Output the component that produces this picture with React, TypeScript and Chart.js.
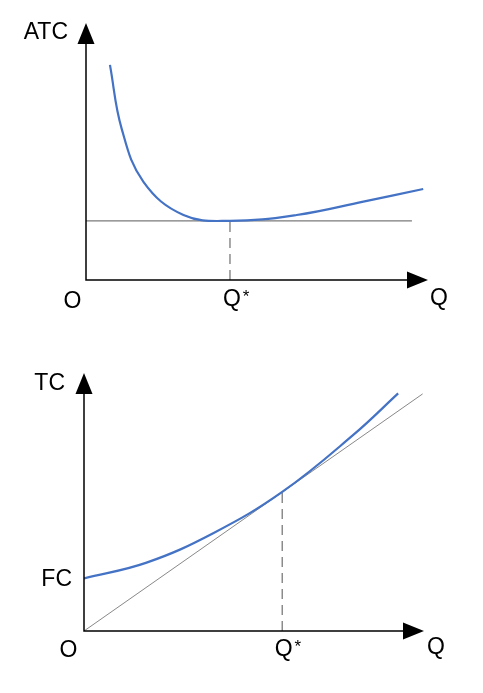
import React, { useEffect, useRef } from "react";
import { Chart, registerables } from "chart.js";

Chart.register(...registerables);

// ---------- Top chart: average total cost (ATC) ----------
const atcQ = [0.7, 1.04, 1.68, 2.85, 4.21, 6.16, 8.11, 9.86];
const atcCost = [8.37, 5.9, 3.82, 2.53, 2.3, 2.53, 3.05, 3.54];
const atcMinQ = 4.21;
const atcMinCost = 2.3;
const atcFloorEndQ = 9.53;

// ---------- Bottom chart: total cost (TC) ----------
const tcQ = [0, 1.84, 3.8, 5.83, 7.92, 9.24];
const tcCost = [2.04, 2.65, 3.79, 5.39, 7.6, 9.21];
const tcRayEndQ = 9.96;
const tcRayEndCost = 9.19;
const tcTangentQ = 5.83;
const tcTangentCost = 5.39;
const fixedCost = 2.04;

const axisMax = 10;
const topYLabel = "ATC";
const bottomYLabel = "TC";
const fcLabel = "FC";
const originLabel = "O";
const qLabel = "Q";
const qStarLabel = "Q";
const starLabel = "*";

const FONT = '"Liberation Sans", Arial, sans-serif';
const BLUE = "#4472C4";
const GREY = "#7a7a7a";

// cx/cy = centre of the capital letters
type LabelSpec = { text: string; cx: number; cy: number; align: CanvasTextAlign; size: number; star?: boolean };

function axesPlugin(getLabels: (x0: number, y0: number, xTip: number, yTip: number, chart: any) => LabelSpec[]) {
  return {
    id: "axes",
    afterDatasetsDraw(chart: any) {
      const ctx = chart.ctx as CanvasRenderingContext2D;
      const xs = chart.scales.x;
      const ys = chart.scales.y;
      const x0 = xs.getPixelForValue(0);
      const y0 = ys.getPixelForValue(0);
      const xTip = xs.getPixelForValue(axisMax);
      const yTip = ys.getPixelForValue(axisMax);
      const len = 21;
      const half = 8.5;
      ctx.save();
      ctx.strokeStyle = "#000";
      ctx.lineWidth = 1.5;
      ctx.beginPath();
      ctx.moveTo(x0, yTip + len);
      ctx.lineTo(x0, y0);
      ctx.lineTo(xTip - len, y0);
      ctx.stroke();
      ctx.fillStyle = "#000";
      ctx.beginPath();
      ctx.moveTo(x0, yTip);
      ctx.lineTo(x0 - half, yTip + len);
      ctx.lineTo(x0 + half, yTip + len);
      ctx.closePath();
      ctx.fill();
      ctx.beginPath();
      ctx.moveTo(xTip, y0);
      ctx.lineTo(xTip - len, y0 - half);
      ctx.lineTo(xTip - len, y0 + half);
      ctx.closePath();
      ctx.fill();
      ctx.textBaseline = "alphabetic";
      for (const l of getLabels(x0, y0, xTip, yTip, chart)) {
        ctx.font = `${l.size}px ${FONT}`;
        ctx.textAlign = l.align;
        const base = l.star ? l.cy + 0.57 * l.size : l.cy + 0.358 * l.size;
        ctx.fillText(l.text, l.cx, base);
      }
      ctx.restore();
    },
  };
}

function baseOptions(padding: any) {
  return {
    responsive: false,
    animation: false as const,
    layout: { padding },
    plugins: { legend: { display: false }, tooltip: { enabled: false } },
    scales: {
      x: { type: "linear" as const, min: 0, max: axisMax, display: false },
      y: { type: "linear" as const, min: 0, max: axisMax, display: false },
    },
    elements: { point: { radius: 0 } },
  };
}

export default function App() {
  const topRef = useRef<HTMLCanvasElement>(null);
  const botRef = useRef<HTMLCanvasElement>(null);

  useEffect(() => {
    const top = new Chart(topRef.current!, {
      type: "scatter",
      data: {
        datasets: [
          {
            data: atcQ.map((q, i) => ({ x: q, y: atcCost[i] })),
            showLine: true,
            borderColor: BLUE,
            borderWidth: 2.2,
            tension: 0.4,
            pointRadius: 0,
          },
          {
            data: [
              { x: 0, y: atcMinCost },
              { x: atcFloorEndQ, y: atcMinCost },
            ],
            showLine: true,
            borderColor: GREY,
            borderWidth: 1.2,
            pointRadius: 0,
          },
          {
            data: [
              { x: atcMinQ, y: 0 },
              { x: atcMinQ, y: atcMinCost },
            ],
            showLine: true,
            borderColor: GREY,
            borderWidth: 1.3,
            borderDash: [10, 6],
            pointRadius: 0,
          },
        ],
      },
      options: baseOptions({ left: 86, top: 23, right: 55, bottom: 67 }) as any,
      plugins: [
        axesPlugin((x0, y0, xTip, yTip, chart) => {
          const qs = chart.scales.x.getPixelForValue(atcMinQ);
          return [
            { text: topYLabel, cx: x0 - 18, cy: yTip + 8, align: "right", size: 23 },
            { text: originLabel, cx: x0 - 13.5, cy: y0 + 20, align: "center", size: 23 },
            { text: qStarLabel, cx: qs + 2, cy: y0 + 18, align: "center", size: 23 },
            { text: starLabel, cx: qs + 16, cy: y0 + 12, align: "center", size: 17, star: true },
            { text: qLabel, cx: xTip + 11, cy: y0 + 17, align: "center", size: 23 },
          ];
        }),
      ],
    });

    const bot = new Chart(botRef.current!, {
      type: "scatter",
      data: {
        datasets: [
          {
            data: tcQ.map((q, i) => ({ x: q, y: tcCost[i] })),
            showLine: true,
            borderColor: BLUE,
            borderWidth: 2.2,
            tension: 0.4,
            pointRadius: 0,
          },
          {
            data: [
              { x: 0, y: 0 },
              { x: tcRayEndQ, y: tcRayEndCost },
            ],
            showLine: true,
            borderColor: GREY,
            borderWidth: 0.9,
            pointRadius: 0,
          },
          {
            data: [
              { x: tcTangentQ, y: 0 },
              { x: tcTangentQ, y: tcTangentCost },
            ],
            showLine: true,
            borderColor: GREY,
            borderWidth: 1.3,
            borderDash: [10, 6],
            pointRadius: 0,
          },
        ],
      },
      options: baseOptions({ left: 84, top: 26, right: 59, bottom: 62 }) as any,
      plugins: [
        axesPlugin((x0, y0, xTip, yTip, chart) => {
          const qs = chart.scales.x.getPixelForValue(tcTangentQ);
          const fcY = chart.scales.y.getPixelForValue(fixedCost);
          return [
            { text: bottomYLabel, cx: x0 - 19, cy: yTip + 8.5, align: "right", size: 23 },
            { text: fcLabel, cx: x0 - 12, cy: fcY - 1, align: "right", size: 23 },
            { text: originLabel, cx: x0 - 15.5, cy: y0 + 17.5, align: "center", size: 23 },
            { text: qStarLabel, cx: qs + 1.5, cy: y0 + 17, align: "center", size: 23 },
            { text: starLabel, cx: qs + 15.5, cy: y0 + 11.5, align: "center", size: 17, star: true },
            { text: qLabel, cx: xTip + 12, cy: y0 + 15, align: "center", size: 23 },
          ];
        }),
      ],
    });

    return () => {
      top.destroy();
      bot.destroy();
    };
  }, []);

  return (
    <div style={{ position: "absolute", left: 0, top: 0, width: 483, height: 693, background: "#fff" }}>
      <canvas ref={topRef} width={483} height={347} style={{ display: "block", width: 483, height: 347 }} />
      <canvas ref={botRef} width={483} height={346} style={{ display: "block", width: 483, height: 346 }} />
    </div>
  );
}
